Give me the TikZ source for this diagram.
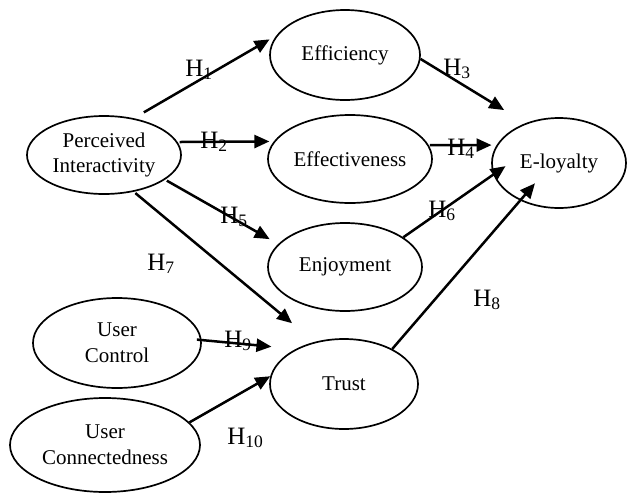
\documentclass[tikz,border=0pt]{standalone}
\usepackage{fontspec}
\setmainfont{Liberation Serif}
\usetikzlibrary{arrows.meta,shapes.geometric}

\begin{document}
\begin{tikzpicture}[x=0.5pt,y=-0.5pt,
    construct/.style={draw,ellipse,line width=0.85pt,inner sep=0pt,align=center,
      font=\fontsize{10.5}{12.8}\selectfont},
    hyp/.style={line width=1.25pt,-{Triangle[length=7.5pt,width=6.5pt]}},
    hlabel/.style={anchor=base west,inner sep=0pt,font=\fontsize{12.5}{14}\selectfont}]
  \useasboundingbox (0,0) rectangle (627,493);

  % Marking constructs
  \node [construct,minimum width=77pt,minimum height=39pt] (pi) at (104,155) {Perceived\\Interactivity};%
  \node [construct,minimum width=75pt,minimum height=45pt] (effi) at (345,55) {Efficiency};%
  \node [construct,minimum width=82pt,minimum height=44pt] (effe) at (350,159) {Effectiveness};%
  \node [construct,minimum width=77pt,minimum height=44pt] (enj) at (345,267) {Enjoyment};%
  \node [construct,minimum width=74pt,minimum height=45pt] (trust) at (344,384) {Trust};%
  \node [construct,minimum width=67pt,minimum height=45pt] (eloy) at (559,163) {E-loyalty};%
  \node [construct,minimum width=84pt,minimum height=45pt] (uc) at (117,343) {User\\Control};%
  \node [construct,minimum width=95pt,minimum height=47pt] (ucon) at (105,445) {User\\Connectedness};%

  % Drawing paths from Perceived Interactivity
  \draw [hyp,shorten <=5.8pt,shorten >=4pt] (pi.51.4) -- (effi.164.5);%
  \draw [hyp,shorten <=1pt,shorten >=2.2pt] (pi.10.7) -- (effe.167.3);%
  \draw [hyp,shorten <=1pt,shorten >=4.9pt] (pi.-22) -- (enj.161.6);%
  \draw [hyp,shorten <=1pt,shorten >=14.6pt] (pi.-51.7) -- (trust.125.4);%

  % Drawing paths into E-loyalty
  \draw [hyp,shorten >=12.5pt] (effi.-3.8) -- (eloy.130.6);%
  \draw [hyp,shorten <=0.5pt,shorten >=2.5pt] (effe.10.9) -- (eloy.164.2);%
  \draw [hyp,shorten >=-7.4pt] (enj.27.8) -- (eloy.190.7);%
  \draw [hyp,shorten >=-11.4pt] (trust.36.7) -- (eloy.224.4);%

  % Drawing paths into Trust
  \draw [hyp,shorten <=-2.4pt,shorten >=12.2pt] (uc.2.4) -- (trust.144.2);%
  \draw [hyp] (ucon.15.7) -- (trust.174.4);%

  % Marking hypotheses
  \node [hlabel] (h1) at (185,76) {H\textsubscript{1}};%
  \node [hlabel] (h2) at (200,148) {H\textsubscript{2}};%
  \node [hlabel] (h3) at (443,75) {H\textsubscript{3}};%
  \node [hlabel] (h4) at (447,155) {H\textsubscript{4}};%
  \node [hlabel] (h5) at (220,223) {H\textsubscript{5}};%
  \node [hlabel] (h6) at (428,217) {H\textsubscript{6}};%
  \node [hlabel] (h7) at (147,270) {H\textsubscript{7}};%
  \node [hlabel] (h8) at (473,306) {H\textsubscript{8}};%
  \node [hlabel] (h9) at (224,347) {H\textsubscript{9}};%
  \node [hlabel] (h10) at (227,444) {H\textsubscript{10}};%
\end{tikzpicture}
\end{document}
